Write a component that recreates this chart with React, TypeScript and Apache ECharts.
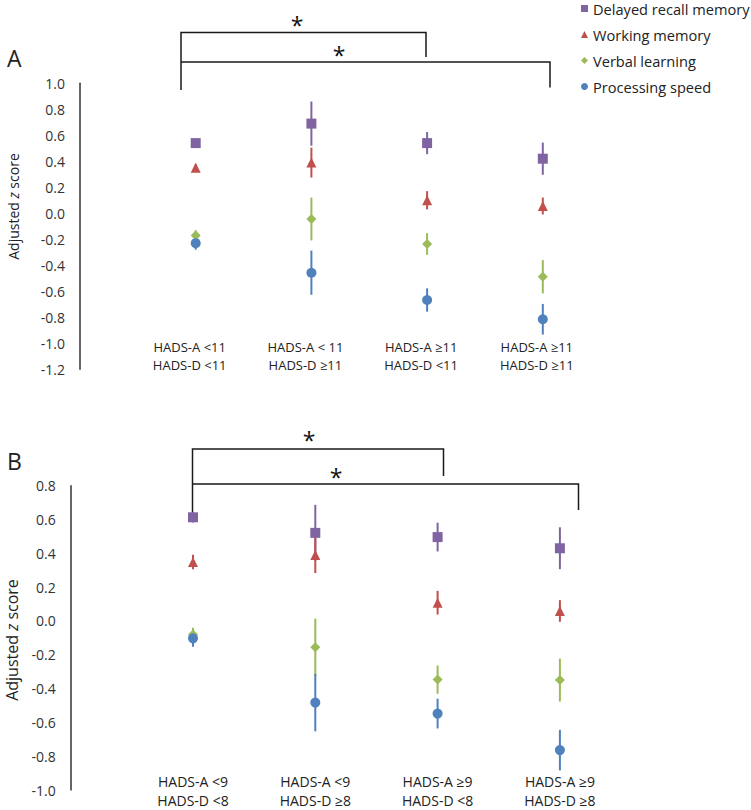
import React, { useEffect, useRef } from "react";
import * as echarts from "echarts";

// ---------- data ----------
const seriesNames = ["Delayed recall memory", "Working memory", "Verbal learning", "Processing speed"];
const seriesColors = ["#8064A2", "#C0504D", "#9BBB59", "#4F81BD"];
const seriesSymbols = ["rect", "triangle", "diamond", "circle"];
const symbolSizes = [10, 10, 10, 10];

const catsA = [
  "HADS-A <11\nHADS-D <11",
  "HADS-A < 11\nHADS-D ≥11",
  "HADS-A ≥11\nHADS-D <11",
  "HADS-A ≥11\nHADS-D ≥11",
];
const catsB = [
  "HADS-A <9\nHADS-D <8",
  "HADS-A <9\nHADS-D ≥8",
  "HADS-A ≥9\nHADS-D <8",
  "HADS-A ≥9\nHADS-D ≥8",
];

// Panel A means and error half-widths
const delayedA = [0.54, 0.69, 0.54, 0.42];
const delayedErrA = [0.03, 0.17, 0.085, 0.124];
const workingA = [0.35, 0.39, 0.1, 0.056];
const workingErrA = [0.03, 0.115, 0.07, 0.065];
const verbalA = [-0.17, -0.044, -0.236, -0.488];
const verbalErrA = [0.04, 0.165, 0.083, 0.128];
const speedA = [-0.23, -0.457, -0.667, -0.815];
const speedErrA = [0.05, 0.17, 0.09, 0.118];

// Panel B means and error half-widths
const delayedB = [0.613, 0.521, 0.496, 0.43];
const delayedErrB = [0.03, 0.166, 0.085, 0.124];
const workingB = [0.349, 0.39, 0.108, 0.059];
const workingErrB = [0.043, 0.107, 0.07, 0.064];
const verbalB = [-0.08, -0.156, -0.347, -0.35];
const verbalErrB = [0.04, 0.17, 0.084, 0.127];
const speedB = [-0.103, -0.483, -0.548, -0.764];
const speedErrB = [0.05, 0.17, 0.088, 0.12];

const yTicksA = { min: -1.2, max: 1.0, interval: 0.2 };
const yTicksB = { min: -1.0, max: 0.8, interval: 0.2 };

const FONT = "'Open Sans', 'Noto Sans', sans-serif";
const TEXT = "#222";

function App() {
  const ref = useRef<HTMLDivElement>(null);
  useEffect(() => {
    if (!ref.current) return;
    const chart = echarts.init(ref.current, null, { renderer: "svg" });

    const panels = [
      { means: [delayedA, workingA, verbalA, speedA], errs: [delayedErrA, workingErrA, verbalErrA, speedErrA] },
      { means: [delayedB, workingB, verbalB, speedB], errs: [delayedErrB, workingErrB, verbalErrB, speedErrB] },
    ];

    const series: any[] = [];
    panels.forEach((p, pi) => {
      p.means.forEach((vals, si) => {
        const errs = p.errs[si];
        series.push({
          type: "custom",
          name: "err" + pi + "_" + si,
          xAxisIndex: pi,
          yAxisIndex: pi,
          z: 2,
          silent: true,
          data: vals.map((v, i) => [i + 1, v - errs[i], v + errs[i]]),
          encode: { x: 0, y: [1, 2] },
          renderItem: (params: any, api: any) => {
            const x = api.value(0);
            const a = api.coord([x, api.value(1)]);
            const b = api.coord([x, api.value(2)]);
            return {
              type: "line",
              shape: { x1: a[0], y1: a[1], x2: b[0], y2: b[1] },
              style: { stroke: seriesColors[si], lineWidth: 2 },
            };
          },
        });
      });
      p.means.forEach((vals, si) => {
        series.push({
          type: "scatter",
          name: seriesNames[si],
          xAxisIndex: pi,
          yAxisIndex: pi,
          z: 3,
          symbol: seriesSymbols[si],
          symbolSize: symbolSizes[si],
          itemStyle: { color: seriesColors[si], opacity: 1 },
          data: vals.map((v, i) => [i + 1, v]),
        });
      });
    });

    const fmtY = (v: number) => (Math.abs(v) < 1e-9 ? 0 : v).toFixed(1);

    const mkX = (idx: number, cats: string[], margin: number, fontSize: number, lineHeight: number, pad: number[]) => ({
      type: "value",
      gridIndex: idx,
      min: 0,
      max: 5,
      interval: 1,
      axisLine: { show: false },
      axisTick: { show: false },
      splitLine: { show: false },
      axisLabel: {
        margin,
        fontSize,
        lineHeight,
        padding: pad,
        color: TEXT,
        fontFamily: FONT,
        formatter: (v: number) => (v >= 1 && v <= cats.length ? cats[v - 1] : ""),
      },
    });
    const mkY = (idx: number, t: any) => ({
      type: "value",
      gridIndex: idx,
      min: t.min,
      max: t.max,
      interval: t.interval,
      axisLine: { show: true, lineStyle: { color: "#333", width: 1.5 } },
      axisTick: { show: false },
      splitLine: { show: false },
      axisLabel: { margin: 15, fontSize: 14, color: "#333", fontFamily: FONT, formatter: fmtY },
    });

    const bracketStyle = { stroke: "#1a1a1a", lineWidth: 1.5, fill: null };
    const star = (x: number, y: number) => ({
      type: "text",
      x,
      y,
      style: { text: "*", fontSize: 23, fontFamily: FONT, fill: "#111", align: "center", verticalAlign: "middle" },
    });
    const yTitle = (x: number, y: number, fs: number) => ({
      type: "text",
      x,
      y,
      rotation: Math.PI / 2,
      style: {
        text: "{n|Adjusted }{i|z}{n| score}",
        align: "center",
        verticalAlign: "middle",
        fill: TEXT,
        rich: {
          n: { fontSize: fs, fontFamily: FONT, fill: TEXT },
          i: { fontSize: fs, fontFamily: FONT, fontStyle: "italic", fill: TEXT },
        },
      },
    });

    chart.setOption({
      animation: false,
      backgroundColor: "#fff",
      textStyle: { fontFamily: FONT },
      legend: {
        orient: "vertical",
        left: 576,
        top: -4,
        itemWidth: 7,
        itemHeight: 7,
        itemGap: 11,
        textStyle: { fontSize: 14.6, color: TEXT, fontFamily: FONT },
        data: seriesNames.map((n, i) => ({ name: n, icon: seriesSymbols[i] })),
        selectedMode: false,
      },
      grid: [
        { left: 80, top: 83.3, width: 578.5, height: 286, containLabel: false },
        { left: 70.7, top: 485.7, width: 611.5, height: 307.6, containLabel: false },
      ],
      xAxis: [mkX(0, catsA, -31, 13, 18, [0, 12, 0, 0]), mkX(1, catsB, -18, 14, 19, [0, 0, 0, 0])],
      yAxis: [mkY(0, yTicksA), mkY(1, yTicksB)],
      series,
      graphic: [
        { type: "text", left: 7, top: 46, style: { text: "A", fontSize: 23, fontFamily: FONT, fill: TEXT } },
        { type: "text", left: 7, top: 449, style: { text: "B", fontSize: 23, fontFamily: FONT, fill: TEXT } },
        yTitle(13, 206.5, 14),
        yTitle(12, 640, 16),
        { type: "polyline", shape: { points: [[181, 90], [181, 32.5], [426, 32.5], [426, 57]] }, style: bracketStyle },
        { type: "polyline", shape: { points: [[181, 62], [550, 62], [550, 87.5]] }, style: bracketStyle },
        star(297, 25),
        star(339, 55),
        { type: "polyline", shape: { points: [[192.5, 513], [192.5, 449], [443.5, 449], [443.5, 476]] }, style: bracketStyle },
        { type: "polyline", shape: { points: [[192.5, 484], [578.5, 484], [578.5, 510]] }, style: bracketStyle },
        star(309, 440),
        star(336, 477),
      ],
    });
    return () => chart.dispose();
  }, []);
  return (
    <div
      ref={ref}
      style={{ position: "fixed", left: 0, top: 0, width: 751, height: 810, background: "#fff" }}
    />
  );
}

export default App;
